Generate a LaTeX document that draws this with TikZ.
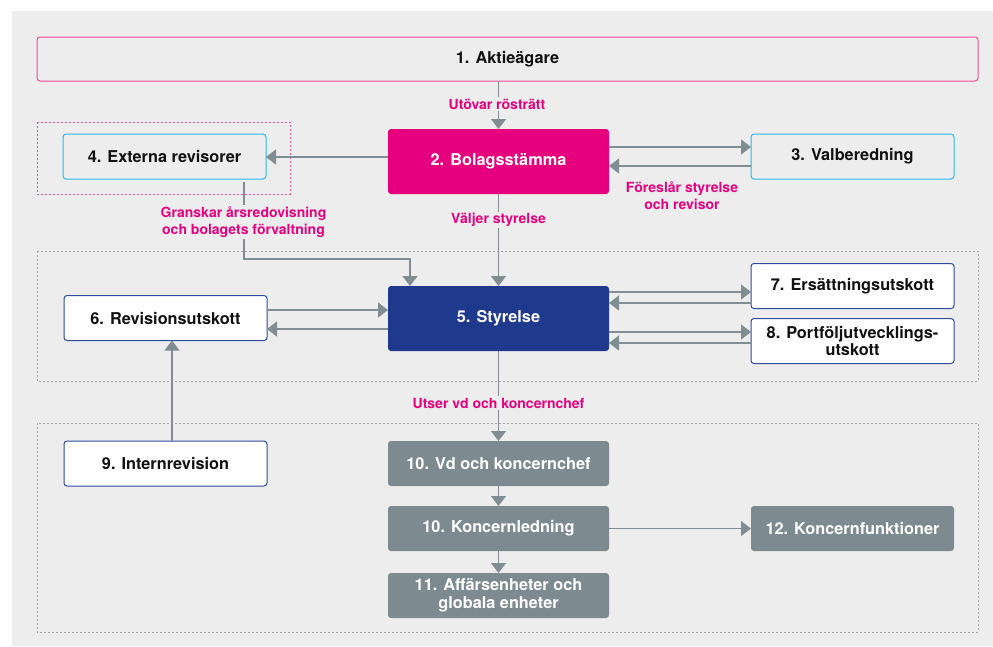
\documentclass[tikz,border=0pt]{standalone}
\usepackage{fontspec}
\setmainfont{TeX Gyre Heros}
\usetikzlibrary{arrows.meta}
\definecolor{bgc}{HTML}{EDEDED}
\definecolor{mag}{HTML}{E6007E}
\definecolor{pinkb}{HTML}{EE4D9B}
\definecolor{cyanb}{HTML}{2BB8EE}
\definecolor{navy}{HTML}{1F3A8C}
\definecolor{navyb}{HTML}{2E4A9E}
\definecolor{grayf}{HTML}{7D8A8F}
\definecolor{arrc}{HTML}{808D92}
\definecolor{dotc}{HTML}{A3A3A3}
\definecolor{txt}{HTML}{111111}
\tikzset{
  box/.style={rectangle, rounded corners=3pt, inner sep=0pt, outer sep=0pt, align=center,
    font=\fontsize{16.3}{18.5}\selectfont\bfseries, line width=1pt},
  wbox/.style={box, minimum width=203pt, minimum height=45pt},
  cbox/.style={box, minimum width=221pt, minimum height=65pt},
  cyanbox/.style={wbox, draw=cyanb, fill=bgc, text=txt},
  bluebox/.style={wbox, draw=navyb, fill=white, text=txt},
  graybox/.style={box, minimum height=45pt, fill=grayf, text=white},
  lab/.style={text=mag, fill=bgc, inner sep=1.5pt, align=center,
    font=\fontsize{14}{16.5}\selectfont\bfseries},
  arr/.style={draw=arrc, line width=1.4pt, -{Triangle[length=10pt,width=15pt]}},
  dotbox/.style={draw=dotc, line width=0.9pt, dash pattern=on 2pt off 2pt},
  pinkdot/.style={draw=pinkb, line width=0.9pt, dash pattern=on 2pt off 2pt},
}
\begin{document}
\begin{tikzpicture}[x=1pt,y=1pt]
\useasboundingbox (0,0) rectangle (993,-646);
\fill[bgc] (12,-11) rectangle (993,-646);
% dotted groups
\draw[pinkdot] (37,-122) rectangle (290,-194);
\draw[dotbox] (37,-251) rectangle (978,-381);
\draw[dotbox] (37,-423) rectangle (978,-632);
% nodes
\node[box, minimum width=941pt, minimum height=44pt, draw=pinkb, fill=bgc, text=txt] (b1) at (507.5,-59) {1. Aktieägare};
\node[cbox, fill=mag, text=white] (b2) at (498.5,-161.5) {2. Bolagsstämma};
\node[cyanbox] (b3) at (852.5,-156.5) {3. Valberedning};
\node[cyanbox] (b4) at (164.5,-156.5) {4. Externa revisorer};
\node[cbox, fill=navy, text=white] (b5) at (498.5,-318.5) {5. Styrelse};
\node[bluebox] (b6) at (165.5,-318) {6. Revisionsutskott};
\node[bluebox] (b7) at (852.5,-286) {7. Ersättningsutskott};
\node[bluebox] (b8) at (852.5,-341) {8. Portföljutvecklings-\\[-1pt]utskott};
\node[bluebox] (b9) at (165.5,-463.5) {9. Internrevision};
\node[graybox, minimum width=221pt] (b10) at (498.5,-463.5) {10. Vd och koncernchef};
\node[graybox, minimum width=221pt] (b10b) at (498.5,-528.5) {10. Koncernledning};
\node[graybox, minimum width=221pt] (b11) at (498.5,-595.5) {11. Affärsenheter och\\[0pt]globala enheter};
\node[graybox, minimum width=203pt] (b12) at (852.5,-528.5) {12. Koncernfunktioner};
% connectors
\draw[arr] (b1.south -| b2.north) -- (b2.north);
\draw[arr] (b2.west |- 0,-157) -- (b4.east |- 0,-157);
\draw[arr] (b2.east |- 0,-147) -- (b3.west |- 0,-147);
\draw[arr] (b3.west |- 0,-166) -- (b2.east |- 0,-166);
\coordinate (g0) at (244,-182);
\draw[arr] (g0) -- (244,-259) -- (410,-259) -- (b5.north -| 410,0);
\draw[arr] (b2.south) -- (b5.north);
\draw[arr] (b6.east |- 0,-310) -- (b5.west |- 0,-310);
\draw[arr] (b5.west |- 0,-329) -- (b6.east |- 0,-329);
\draw[arr] (b5.east |- 0,-292) -- (b7.west |- 0,-292);
\draw[arr] (b7.west |- 0,-303) -- (b5.east |- 0,-303);
\draw[arr] (b5.east |- 0,-332) -- (b8.west |- 0,-332);
\draw[arr] (b8.west |- 0,-343) -- (b5.east |- 0,-343);
\draw[arr] (b9.north -| 172,0) -- (b6.south -| 172,0);
\draw[arr] (b5.south) -- (b10.north);
\draw[arr] (b10.south) -- (b10b.north);
\draw[arr] (b10b.south) -- (b11.north);
\draw[arr] (b10b.east) -- (b12.west);
% labels
\node[lab] (l1) at (497,-104) {Utövar rösträtt};
\node[lab] (l2) at (682,-195.5) {Föreslår styrelse\\och revisor};
\node[lab] (l3) at (243.5,-222) {Granskar årsredovisning\\och bolagets förvaltning};
\node[lab] (l4) at (498.5,-220) {Väljer styrelse};
\node[lab] (l5) at (498.5,-403) {Utser vd och koncernchef};
\end{tikzpicture}
\end{document}
